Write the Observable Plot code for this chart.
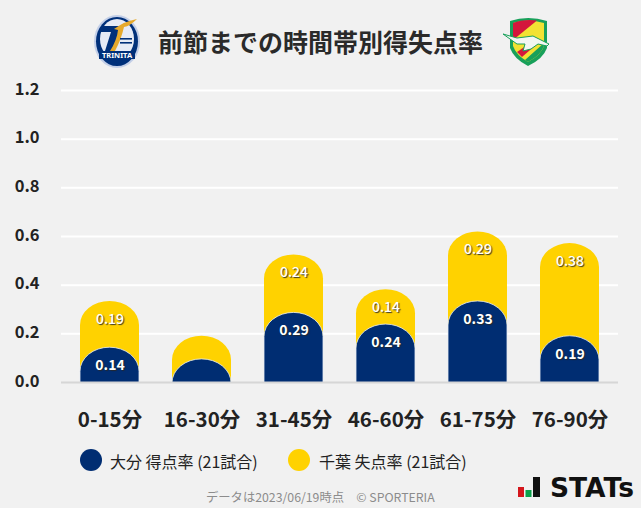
<!DOCTYPE html>
<html><head><meta charset="utf-8">
<script src="https://cdn.jsdelivr.net/npm/d3@7"></script>
<script src="https://cdn.jsdelivr.net/npm/@observablehq/plot@0.6"></script>
<style>
html,body{margin:0;padding:0;background:#f1f1f1;}
body{width:641px;height:508px;position:relative;overflow:hidden;font-family:"Noto Sans CJK JP","Noto Sans",sans-serif;color:#222;}
#title{position:absolute;left:0;top:0;width:641px;height:70px;}
#title .t{position:absolute;left:158px;top:22px;font-size:25px;font-weight:700;line-height:38px;color:#2a2a2a;white-space:nowrap;}
#chart{position:absolute;left:0;top:70px;}
#chart svg{background:transparent;display:block;}
.lab text{text-shadow:1px 1px 1px rgba(40,40,40,.9);}
.lg{position:absolute;top:449px;font-size:16px;line-height:24px;white-space:nowrap;color:#222;}
.dot{position:absolute;top:449px;width:22px;height:22px;border-radius:50%;}
#foot{position:absolute;left:206px;top:488px;font-size:12.3px;line-height:18px;color:#8c8c8c;white-space:pre;}
#stats{position:absolute;left:517px;top:468px;}
</style></head><body>
<div id="title"><div class="t">前節までの時間帯別得失点率</div>
<svg style="position:absolute;left:93px;top:14px" width="48" height="56" viewBox="0 0 48 56">
<ellipse cx="24" cy="27.5" rx="23" ry="26.5" fill="#c3cfe8"/>
<ellipse cx="24" cy="27.5" rx="21" ry="24.5" fill="#00307a"/>
<ellipse cx="24" cy="25" rx="17" ry="20" fill="#e6ebf6"/>
<path d="M8 12H28L21 37H12L18 18H8Z" fill="#00307a"/>
<path d="M21 15Q32 7 44 5Q37 12 31 13Q28 26 22 37L17 37Q24 26 25 16Z" fill="#e6a92c"/>
<rect x="6" y="37" width="36" height="8" fill="#00307a"/>
<text x="24" y="44" font-size="7.5" font-weight="700" text-anchor="middle" fill="#fff" font-family="Noto Sans">TRINITA</text>
<rect x="27" y="24" width="12" height="1.6" fill="#00307a"/><rect x="27" y="28" width="12" height="1.6" fill="#00307a"/>
</svg>
<svg style="position:absolute;left:503px;top:16px" width="48" height="52" viewBox="0 0 48 52">
<path d="M7 5Q25 -1 44 5L44 32Q40 43 25 50Q11 43 7 32Z" fill="#18a05a"/>
<path d="M10 7Q25 2 41 7L41 30Q38 39 25 46Q13 39 10 30Z" fill="#f2e233"/>
<path d="M10 7Q20 3 34 4.5L10 24Z" fill="#d4163c"/>
<path d="M14 36L30 25L34 28L19 41Z" fill="#d4163c"/>
<path d="M22 44L41 27V30Q38 39 25 46Z" fill="#18a05a"/>
<path d="M0 18L14 22L30 20L46 28L44 30L35 28L28 33L20 35L22 28L14 28Z" fill="#f2f6f2" stroke="#18a05a" stroke-width="1"/>
</svg></div>
<div id="chart"></div>
<div class="dot" style="left:80px;background:#002d72"></div>
<div class="lg" style="left:110px">大分 得点率 (21試合)</div>
<div class="dot" style="left:288px;background:#ffd200"></div>
<div class="lg" style="left:319px">千葉 失点率 (21試合)</div>
<div id="foot">データは2023/06/19時点　© SPORTERIA</div>
<svg id="stats" width="124" height="38" viewBox="0 0 124 38">
<rect x="1" y="19" width="6" height="10" fill="#d4161c"/>
<rect x="8.5" y="22" width="6" height="7" fill="#0aa14b"/>
<rect x="16" y="9" width="7" height="20" fill="#111"/>
<text transform="translate(33,29) scale(1.02,1)" font-family="DejaVu Sans" font-weight="700" font-size="26" fill="#111">STATs</text>
</svg>
<script>
const categories=["0-15分","16-30分","31-45分","46-60分","61-75分","76-90分"];
const oitaFor=[0.143,0.095,0.286,0.238,0.333,0.19];
const chibaAgainst=[0.19,0.095,0.238,0.143,0.286,0.381];
const oitaLabels=["0.14","","0.29","0.24","0.33","0.19"];
const chibaLabels=["0.19","","0.24","0.14","0.29","0.38"];
const yTicks=[0,0.2,0.4,0.6,0.8,1.0,1.2];
const navy="#002d72",gold="#ffd200";
const rows=categories.map((c,i)=>({c,a:oitaFor[i],b:chibaAgainst[i],t:oitaFor[i]+chibaAgainst[i],la:oitaLabels[i],lb:chibaLabels[i]}));
const below=-0.2;
const svg=Plot.plot({
  width:641,height:370,marginLeft:61,marginRight:23,marginTop:20,marginBottom:58,
  style:{background:"transparent",fontFamily:'"Noto Sans CJK JP","Noto Sans",sans-serif'},
  x:{domain:categories,paddingInner:0.359,paddingOuter:0.2065,label:null},
  y:{domain:[0,1.2],label:null},
  marks:[
    Plot.ruleY(yTicks.filter(d=>d>0),{stroke:"#fff",strokeWidth:2,strokeOpacity:1}),
    Plot.rect(rows,{x:"c",y1:below,y2:"t",fill:gold,rx:29.5,ry:24,clip:true}),
    Plot.rect(rows,{x:"c",y1:below,y2:"a",fill:navy,stroke:"#e8edf5",strokeWidth:0.8,rx:29.5,ry:24,clip:true}),
    Plot.ruleY([0],{stroke:"#d6d6d6",strokeWidth:2}),
    Plot.text(rows,{x:"c",y:"t",text:"lb",dy:18,fill:"#fff",fontSize:14,fontWeight:500,className:"lab"}),
    Plot.text(rows,{x:"c",y:"a",text:"la",dy:18,fill:"#fff",fontSize:14,fontWeight:700,className:"lab"}),
    Plot.axisY({ticks:yTicks,tickSize:0,tickPadding:22,tickFormat:d=>d.toFixed(1),fontSize:16.5,fontWeight:700,fill:"#222",anchor:"left",dy:-1}),
    Plot.axisX({tickSize:0,tickPadding:30,fontSize:20.5,fontWeight:700,fill:"#222",label:null,anchor:"bottom"})
  ]
});
document.getElementById("chart").append(svg);
</script>
</body></html>
